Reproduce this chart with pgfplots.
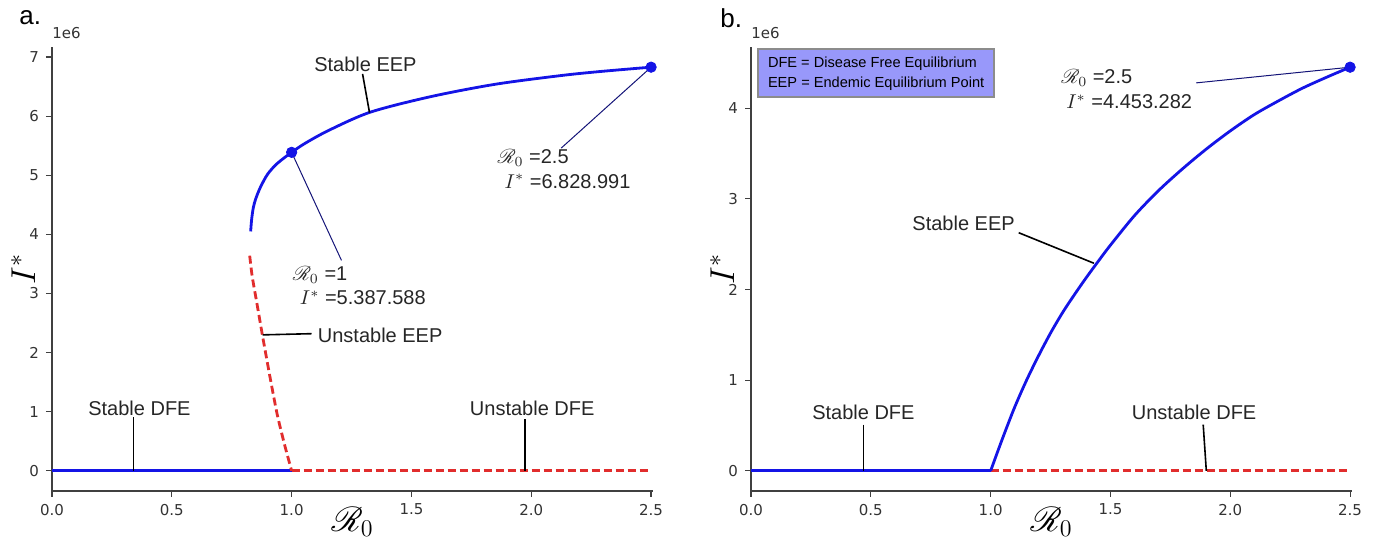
\documentclass[border=0pt]{standalone}
\usepackage[no-math]{fontspec}
\setmainfont{Liberation Sans}
\newfontfamily\dejavu{DejaVu Sans}
\usepackage{mathrsfs}
\usepackage{pgfplots}
\pgfplotsset{compat=1.18}
\definecolor{cblue}{RGB}{20,20,230}
\definecolor{cred}{RGB}{225,45,45}
\definecolor{lgd}{RGB}{152,152,250}
\definecolor{navyl}{RGB}{20,20,120}
\tikzset{ann/.style={font=\fontsize{10}{12}\selectfont, text=black!85, inner sep=0pt}}
\pgfplotsset{
 mystyle/.style={
  scale only axis, width=300.5pt, height=222pt,
  xmin=0, xmax=2.508,
  axis x line*=bottom, axis y line*=left,
  axis line style={black!75, line width=0.7pt, -},
  tick align=outside, major tick length=3pt,
  every tick/.append style={black!75, line width=0.6pt},
  xtick={0,0.5,1,1.5,2,2.5}, xticklabels={0.0,0.5,1.0,1.5,2.0,2.5},
  ticklabel style={font=\dejavu\fontsize{7.5}{9}\selectfont, text=black!80},
  /pgf/number format/assume math mode=true,
  xlabel={$\mathscr{R}_0$}, ylabel={$I^*$},
  label style={font=\fontsize{17}{19}\selectfont},
  xlabel style={at={(axis description cs:0.5,-0.07)}, anchor=center},
  ylabel style={at={(axis description cs:-0.048,0.5)}, anchor=center},
  clip=false,
  scaled y ticks=false,
 },
}
\begin{document}
\begin{tikzpicture}
\path[use as bounding box] (0,0) rectangle (687.5pt,270pt);
\node[anchor=west, font=\fontsize{13}{15}\selectfont, inner sep=0] at (9.5pt,261pt) {a.};
\node[anchor=west, font=\fontsize{13}{15}\selectfont, inner sep=0] at (360pt,261pt) {b.};
% ---------------- panel a
\begin{axis}[mystyle, at={(26pt,24.5pt)}, anchor=south west,
  ymin=-0.3415, ymax=7.1705, ytick={0,1,2,3,4,5,6,7}]
\addplot[cblue, line width=1.4pt] coordinates {(0,0) (1,0)};
\addplot[cred, line width=1.4pt, dash pattern=on 4pt off 2pt] coordinates {(1,0) (2.5,0)};
\addplot[cred, line width=1.4pt, dash pattern=on 4pt off 2pt, smooth, tension=0.4] coordinates {
(0.825,3.64) (0.835,3.30) (0.85,2.95) (0.865,2.60) (0.88,2.25) (0.91,1.58) (0.94,0.95) (0.97,0.45) (1.0,0)};
\addplot[cblue, line width=1.4pt, smooth, tension=0.5] coordinates {
(0.829,4.05) (0.833,4.25) (0.84,4.45) (0.85,4.60) (0.87,4.80) (0.90,5.02) (0.94,5.20) (1.00,5.388) (1.06,5.55) (1.16,5.77) (1.33,6.07) (1.58,6.33) (1.85,6.54) (2.13,6.69) (2.30,6.76) (2.50,6.829)};
\draw[navyl, line width=0.5pt] (axis cs:1,5.388) -- (axis cs:1.208,3.56);
\draw[navyl, line width=0.5pt] (axis cs:2.5,6.829) -- (axis cs:2.125,5.46);
\addplot[only marks, mark=*, mark size=2.6pt, cblue] coordinates {(1,5.388) (2.5,6.829)};
\draw[black, line width=0.8pt] (axis cs:1.296,6.715) -- (axis cs:1.325,6.06);
\node[ann] at (axis cs:1.308,6.88) {Stable EEP};
\node[ann, anchor=west] at (axis cs:1.004,3.32) {$\mathscr{R}_0$ =1};
\node[ann, anchor=west] at (axis cs:1.033,2.93) {$I^*$ =5.387.588};
\node[ann, anchor=west] at (axis cs:1.858,5.30) {$\mathscr{R}_0$ =2.5};
\node[ann, anchor=west] at (axis cs:1.8875,4.90) {$I^*$ =6.828.991};
\draw[black, line width=0.8pt] (axis cs:0.879,2.30) -- (axis cs:1.083,2.32);
\node[ann, anchor=west] at (axis cs:1.108,2.30) {Unstable EEP};
\draw[black, line width=0.8pt] (axis cs:0.34,0.91) -- (axis cs:0.34,0);
\node[ann] at (axis cs:0.365,1.06) {Stable DFE};
\draw[black, line width=0.8pt] (axis cs:1.975,0.87) -- (axis cs:1.975,0);
\node[ann] at (axis cs:2.004,1.06) {Unstable DFE};
\node[anchor=west, font=\dejavu\fontsize{7.5}{9}\selectfont, inner sep=0, text=black!80] at (rel axis cs:0,1) [yshift=7pt] {1e6};
\end{axis}
% ---------------- panel b
\begin{axis}[mystyle, at={(375.5pt,24.5pt)}, anchor=south west,
  ymin=-0.2227, ymax=4.676, ytick={0,1,2,3,4}]
\addplot[cblue, line width=1.4pt] coordinates {(0,0) (1,0)};
\addplot[cred, line width=1.4pt, dash pattern=on 4pt off 2pt] coordinates {(1,0) (2.5,0)};
\addplot[cblue, line width=1.4pt, smooth, tension=0.5] coordinates {
(1.00,0) (1.05,0.36) (1.10,0.70) (1.15,1.00) (1.20,1.27) (1.25,1.52) (1.30,1.745) (1.35,1.945) (1.40,2.135) (1.45,2.315) (1.50,2.49) (1.60,2.815) (1.70,3.09) (1.80,3.33) (1.90,3.55) (2.00,3.75) (2.10,3.93) (2.20,4.08) (2.30,4.22) (2.40,4.34) (2.50,4.453)};
\draw[navyl, line width=0.5pt] (axis cs:2.5,4.453) -- (axis cs:1.858,4.28);
\addplot[only marks, mark=*, mark size=2.6pt, cblue] coordinates {(2.5,4.453)};
\node[ann, anchor=west] at (axis cs:1.293,4.336) {$\mathscr{R}_0$ =2.5};
\node[ann, anchor=west] at (axis cs:1.314,4.07) {$I^*$ =4.453.282};
\draw[black, line width=0.8pt] (axis cs:1.117,2.627) -- (axis cs:1.431,2.29);
\node[ann] at (axis cs:0.887,2.73) {Stable EEP};
\draw[black, line width=0.8pt] (axis cs:0.469,0.51) -- (axis cs:0.469,0);
\node[ann] at (axis cs:0.469,0.643) {Stable DFE};
\draw[black, line width=0.8pt] (axis cs:1.887,0.51) -- (axis cs:1.9,0);
\node[ann] at (axis cs:1.849,0.643) {Unstable DFE};
\node[anchor=north west, draw=black!45, line width=1pt, fill=lgd, inner xsep=5pt, inner ysep=3.5pt,
  align=left, font=\fontsize{7.3}{10}\selectfont] at (axis cs:0.025,4.66)
  {DFE = Disease Free Equilibrium\\EEP = Endemic Equilibrium Point};
\node[anchor=west, font=\dejavu\fontsize{7.5}{9}\selectfont, inner sep=0, text=black!80] at (rel axis cs:0,1) [yshift=7pt] {1e6};
\end{axis}
\end{tikzpicture}
\end{document}
